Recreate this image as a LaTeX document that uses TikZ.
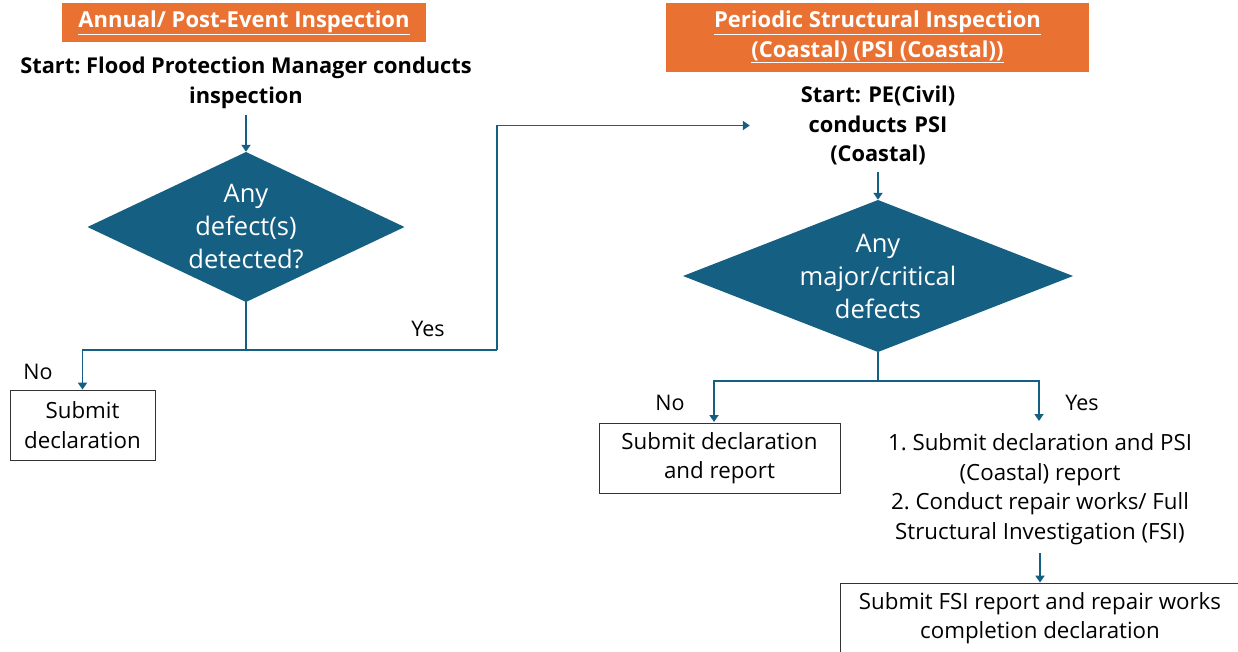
\documentclass[tikz,border=0pt]{standalone}
\usepackage{fontspec}
\setmainfont{Open Sans}
\usetikzlibrary{arrows.meta,calc}
\definecolor{orng}{HTML}{E97132}
\definecolor{teal}{HTML}{156082}
\frenchspacing
\begin{document}
\begin{tikzpicture}[x=1pt,y=-1pt,
  hdr/.style={fill=orng,text=white,font=\fontsize{22}{29.5}\selectfont\bfseries,align=center,inner sep=0pt},
  starttxt/.style={font=\fontsize{21.8}{29.5}\selectfont\bfseries,align=center,inner sep=0pt},
  dec/.style={text=white,font=\fontsize{25.5}{33}\selectfont,align=center,inner sep=0pt,
    path picture={\fill[teal] (path picture bounding box.north) -- (path picture bounding box.east) -- (path picture bounding box.south) -- (path picture bounding box.west) -- cycle;}},
  box/.style={draw=black!80,line width=0.8pt,font=\fontsize{22.3}{29.5}\selectfont,align=center,inner sep=0pt},
  plain/.style={font=\fontsize{22.3}{29.5}\selectfont,align=center,inner sep=0pt},
  lab/.style={font=\fontsize{21.5}{29}\selectfont,inner sep=0pt},
  conn/.style={draw=teal,line width=1.8pt},
  arr/.style={conn,-{Triangle[width=9pt,length=7pt]}}]
\useasboundingbox (0,0) rectangle (1238,651);

% left column
\node[hdr,minimum width=364,minimum height=39] (h1) at (244,22.5) {\underline{Annual/ Post-Event Inspection}};
\node[starttxt] (s1) at (246,83) {Start: Flood Protection Manager conducts\\inspection};
\node[dec,minimum width=317,minimum height=150] (d1) at (246,227) {Any\\defect(s)\\detected?};
\node[box,minimum width=145,minimum height=70] (b1) at (82.5,425) {Submit\\declaration};
\coordinate (j1) at (246,350);
\coordinate (k1) at (497,350);

\draw[arr] (246,115) -- (d1.north);
\draw[conn] (d1.south) -- (j1);
\draw[arr] (j1) -| (b1.north);
\node[lab] (no1) at (38,372) {No};
\node[lab] (yes1) at (428,329) {Yes};

% right column
\node[hdr,minimum width=423,minimum height=69] (h2) at (877.5,37) {\underline{Periodic Structural Inspection}\\\underline{(Coastal) (PSI (Coastal))}};
\node[starttxt,text width=256] (s2) at (878,125.5) {Start: PE(Civil)\\conducts PSI\\(Coastal)};
\draw[conn] (j1) -- (k1);
\draw[arr] (k1) |- (s2.west);
\node[dec,minimum width=390,minimum height=152] (d2) at (878,276) {Any\\major/critical\\defects};
\draw[arr] (878,172) -- (d2.north);
\coordinate (j2) at (878,381);
\node[box,minimum width=241,minimum height=70] (b2) at (719.5,458) {Submit declaration\\and report};
\node[plain] (t3) at (1040,489) {1. Submit declaration and PSI\\(Coastal) report\\2. Conduct repair works/ Full\\Structural Investigation (FSI)};
\node[box,minimum width=400,minimum height=70] (b3) at (1040,618) {Submit FSI report and repair works\\completion declaration};
\draw[conn] (d2.south) -- (j2);
\draw[arr] (j2) -| (714,422);
\draw[arr] (j2) -| (1039,421);
\node[lab] (no2) at (670,403) {No};
\node[lab] (yes2) at (1082,403) {Yes};
\draw[arr] (1040,553) -- (b3.north);
\end{tikzpicture}
\end{document}
